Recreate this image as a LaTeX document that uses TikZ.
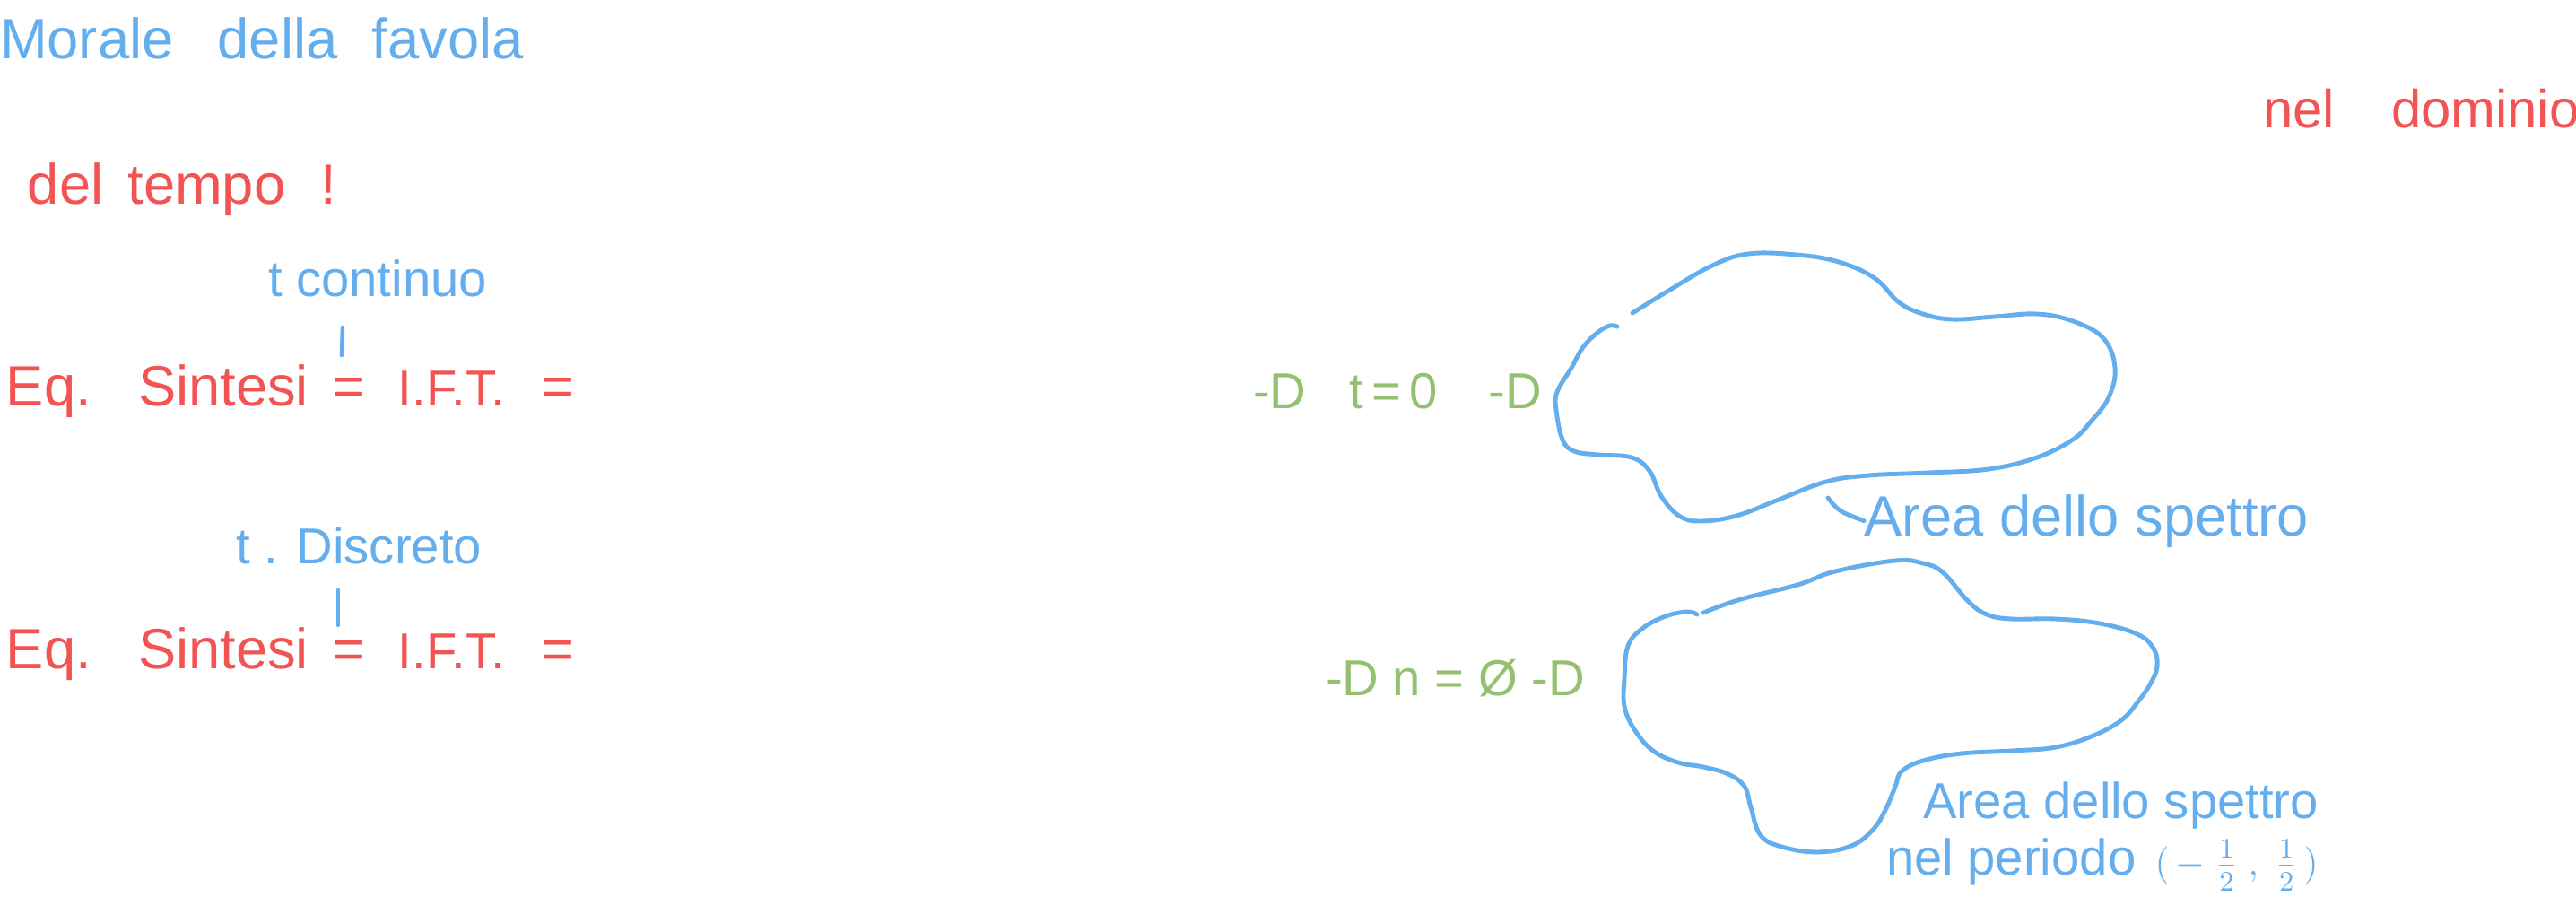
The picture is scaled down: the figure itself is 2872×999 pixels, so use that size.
\documentclass[tikz,border=0pt]{standalone}
\usepackage{fontspec}
\setmainfont{Liberation Sans}
\definecolor{hblue}{RGB}{100,174,238}
\definecolor{hred}{RGB}{242,84,84}
\definecolor{hgreen}{RGB}{148,192,112}
\newcommand{\hsz}[1]{\fontsize{#1}{#1}\selectfont}
\newcommand{\halffrac}{\frac{\raisebox{0.5pt}{$\scriptstyle 1$}}{\raisebox{-1pt}{$\scriptstyle 2$}}}
\tikzset{
  hw/.style={inner sep=0pt, outer sep=0pt, anchor=base west},
  bluetxt/.style={hw, text=hblue},
  redtxt/.style={hw, text=hred},
  greentxt/.style={hw, text=hgreen},
  blobline/.style={draw=hblue, line width=1.4pt, line cap=round, line join=round},
  tickline/.style={draw=hblue, line width=1.3pt, line cap=round},
}
\begin{document}
\begin{tikzpicture}[x=0.01cm,y=-0.01cm]
\useasboundingbox (0,0) rectangle (2872,999);

% titles
\node[bluetxt] (title) at (0,65) {\hsz{18}Morale\hspace*{14pt}della\hspace*{11pt}favola};
\node[redtxt] (deltempo) at (31,227) {\hsz{18}del\hspace*{7.7pt}tempo\hspace*{11pt}!};
\node[redtxt] (neldom) at (2523,142) {\hsz{17}nel\hspace*{18pt}dominio};

% continuous time
\node[bluetxt] (tcont) at (299,330) {\hsz{16}t continuo};
\coordinate (tk1a) at (382,365);
\coordinate (tk1b) at (381,396);
\draw[tickline] (tk1a) -- (tk1b);
\node[redtxt] (eq1) at (7,452) {\hsz{18}Eq.\hspace*{14.8pt}Sintesi\hspace*{7.4pt}=\hspace*{10.5pt}{\hsz{16}I.F.T.}\hspace*{11.7pt}=};

% discrete time
\node[bluetxt] (tdisc) at (263,628) {\hsz{16}t . Discreto};
\coordinate (tk2a) at (377,658);
\coordinate (tk2b) at (377,697);
\draw[tickline] (tk2a) -- (tk2b);
\node[redtxt] (eq2) at (7,745) {\hsz{18}Eq.\hspace*{14.8pt}Sintesi\hspace*{7.4pt}=\hspace*{10.5pt}{\hsz{16}I.F.T.}\hspace*{11.7pt}=};

% green arrows
\node[greentxt] (g1) at (1397,455) {\hsz{16}-D\hspace*{13.7pt}t\,=\,0\hspace*{16pt}-D};
\node[greentxt] (g2) at (1478,775) {\hsz{16}-D n = Ø -D};

% blob 1
\draw[blobline] plot[smooth, tension=0.65] coordinates {
 (1820,349) (1862,323) (1909,296) (1949,283) (2003,284) (2050,292) (2090,310)
 (2117,337) (2144,350) (2177,356) (2224,353) (2271,350) (2311,358) (2345,377)
 (2358,410) (2351,443) (2331,470) (2311,490) (2271,510) (2217,523) (2150,527)
 (2083,530) (2036,537) (1983,557) (1936,575) (1896,581) (1872,575) (1852,553)
 (1839,525) (1819,510) (1782,507) (1755,503) (1742,490) (1735,457) (1736,437)
 (1752,410) (1765,387) (1782,370) (1795,363) (1803,364)};

\node[bluetxt] (area1) at (2078,597) {\hsz{18}Area dello spettro};
\coordinate (hk1) at (2038,555);
\draw[blobline] (hk1) .. controls (2050,570) .. (area1.west);

% blob 2
\draw[blobline] plot[smooth, tension=0.65] coordinates {
 (1899,683) (1941,668) (2004,652) (2046,637) (2113,625) (2144,628) (2166,638)
 (2194,670) (2215,685) (2243,690) (2292,690) (2341,695) (2383,707) (2401,723)
 (2405,743) (2397,763) (2383,783) (2365,803) (2334,820) (2292,833) (2243,837)
 (2187,840) (2144,848) (2120,860) (2113,877) (2102,903) (2088,925) (2064,943)
 (2025,950) (1983,943) (1962,930) (1952,900) (1945,877) (1927,863) (1899,855)
 (1871,850) (1843,837) (1822,813) (1811,787) (1811,757) (1815,720) (1832,700)
 (1857,687) (1881,682) (1892,685)};

\node[bluetxt] (area2) at (2144,912) {\hsz{16}Area dello spettro};
\node[bluetxt] (periodo) at (2103,975) {\hsz{16}nel periodo\hspace*{6pt}{\hsz{13}$\bigl(\,-\;\halffrac\;,\;\halffrac\,\bigr)$}};
\end{tikzpicture}
\end{document}
